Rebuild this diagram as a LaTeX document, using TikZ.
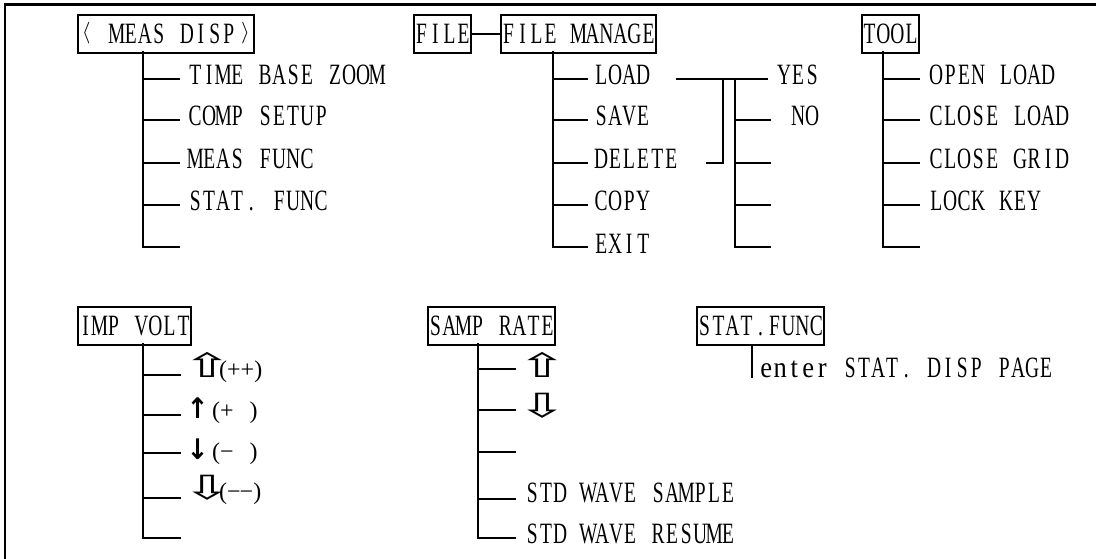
\documentclass[tikz,border=0pt]{standalone}
\usepackage{fontspec}
\usepackage{graphicx}
\setmainfont{Liberation Serif}
\newfontfamily\cnf[FakeStretch=0.66]{Liberation Serif}
\newfontfamily\cnl[FakeStretch=0.9]{Liberation Serif}
\newfontfamily\djv{DejaVu Sans}
\newfontfamily\tnr{Liberation Serif}
\makeatletter
\def\mono#1{\mono@loop#1\mono@end}
\def\mono@end{\mono@end}
\def\mono@loop#1{\ifx#1\mono@end\else\makebox[14pt]{#1}\expandafter\mono@loop\fi}
\makeatother
\newcommand{\wup}{\makebox[20pt][l]{\hspace*{-10pt}\raisebox{-0.5pt}{\scalebox{2.6}[1.45]{\djv\fontsize{23}{23}\selectfont ⇧}}}}
\newcommand{\wdown}{\makebox[20pt][l]{\hspace*{-10pt}\raisebox{-0.5pt}{\scalebox{2.6}[1.45]{\djv\fontsize{23}{23}\selectfont ⇩}}}}
\newcommand{\bup}{\makebox[11pt][c]{\scalebox{1.25}[1.35]{\djv\bfseries\fontsize{21}{21}\selectfont ↑}}}
\newcommand{\bdown}{\makebox[11pt][c]{\scalebox{1.25}[1.35]{\djv\bfseries\fontsize{21}{21}\selectfont ↓}}}
\tikzset{
  ln/.style={line width=1.8pt, line cap=rect},
  menubox/.style={draw, line width=1.8pt, anchor=north west, inner xsep=0.6pt, inner ysep=0pt,
    text height=29pt, text depth=9pt, font=\cnf\fontsize{29.5}{30}\selectfont},
  item/.style={anchor=base west, inner sep=0pt, font=\cnf\fontsize{29.5}{30}\selectfont},
  arritem/.style={anchor=base west, inner sep=0pt, font=\tnr\fontsize{24}{24}\selectfont},
}
\begin{document}
\begin{tikzpicture}[x=1pt,y=-1pt]
\useasboundingbox (0,0) rectangle (1096,559);
% frame (cropped)
\coordinate (fr1) at (5,559);
\coordinate (fr2) at (5,4.5);
\coordinate (fr3) at (1096,4.5);
\draw[line width=2.2pt] (fr1) -- (fr2) -- (fr3);

% ---------- MEAS DISP ----------
\node[menubox, inner xsep=4pt] (meas) at (77,14)
  {\makebox[14pt][l]{\raisebox{5.5pt}{\scalebox{1.3}[1.25]{\fontsize{17.28}{18}\selectfont$\langle$}}}\mono{~MEAS~DISP}\makebox[14pt][r]{\raisebox{5.5pt}{\scalebox{1.3}[1.25]{\fontsize{17.28}{18}\selectfont$\rangle$}}}};
\coordinate (mT) at (143,52);
\foreach \y [count=\i] in {79,120,163,205,247} \coordinate (m\i) at (179,\y);
\draw[ln] (mT) |- (m5);
\foreach \i in {1,...,4} \draw[ln] (mT |- m\i) -- (m\i);
\node[item] (mt1) at (188,85) {\mono{TIME~BASE~ZOOM}};
\node[item] (mt2) at (188,126) {\mono{COMP~SETUP}};
\node[item] (mt3) at (188,169) {\mono{MEAS~FUNC}};
\node[item] (mt4) at (188,211) {\mono{STAT.~FUNC}};

% ---------- FILE ----------
\node[menubox] (file) at (413,14) {\mono{FILE}};
\node[menubox] (fm) at (500,14) {\mono{FILE~MANAGE}};
\draw[ln] (file.east) -- (fm.west);
\coordinate (fT) at (553,52);
\foreach \y [count=\i] in {79,120,163,205,247} \coordinate (f\i) at (587,\y);
\draw[ln] (fT) |- (f5);
\foreach \i in {1,...,4} \draw[ln] (fT |- f\i) -- (f\i);
\node[item] (ft1) at (594,85) {\mono{LOAD}};
\node[item] (ft2) at (594,126) {\mono{SAVE}};
\node[item] (ft3) at (594,169) {\mono{DELETE}};
\node[item] (ft4) at (594,211) {\mono{COPY}};
\node[item] (ft5) at (594,253) {\mono{EXIT}};
% LOAD / DELETE -> YES / NO
\coordinate (la) at (677,79);
\coordinate (lb) at (767,79);
\draw[ln] (la) -- (lb);
\coordinate (v1t) at (723,79);
\coordinate (ds) at (707,163);
\draw[ln] (ds) -| (v1t);
\coordinate (v2t) at (735,79);
\foreach \y [count=\i] in {120,163,205,247} \coordinate (r\i) at (770,\y);
\draw[ln] (v2t) |- (r4);
\foreach \i in {1,...,3} \draw[ln] (v2t |- r\i) -- (r\i);
\node[item] (yes) at (777,85) {\mono{YES}};
\node[item] (no) at (777,126) {\mono{~NO}};

% ---------- TOOL ----------
\node[menubox] (tool) at (861,14) {\mono{TOOL}};
\coordinate (tT) at (883,52);
\foreach \y [count=\i] in {79,120,163,205,247} \coordinate (t\i) at (919,\y);
\draw[ln] (tT) |- (t5);
\foreach \i in {1,...,4} \draw[ln] (tT |- t\i) -- (t\i);
\node[item] (tt1) at (929,85) {\mono{OPEN~LOAD}};
\node[item] (tt2) at (929,126) {\mono{CLOSE~LOAD}};
\node[item] (tt3) at (929,169) {\mono{CLOSE~GRID}};
\node[item] (tt4) at (929,211) {\mono{LOCK~KEY}};

% ---------- IMP VOLT ----------
\node[menubox] (imp) at (77,306) {\mono{IMP~VOLT}};
\coordinate (iT) at (143,344);
\foreach \y [count=\i] in {375,415,453,498,538} \coordinate (i\i) at (180,\y);
\draw[ln] (iT) |- (i5);
\foreach \i in {1,...,4} \draw[ln] (iT |- i\i) -- (i\i);
\node[arritem] (it1) at (192,377) {\makebox[27pt][l]{\wup}(++)};
\node[arritem] (it2) at (192,418) {\makebox[20pt][l]{\bup}(+\,\,\,\,)};
\node[arritem] (it3) at (192,459) {\makebox[20pt][l]{\bdown}(−\,\,\,\,)};
\node[arritem] (it4) at (192,499) {\makebox[27pt][l]{\wdown}(−\kern-1pt−)};

% ---------- SAMP RATE ----------
\node[menubox] (samp) at (427,306) {\mono{SAMP~RATE}};
\coordinate (sT) at (478,344);
\foreach \y [count=\i] in {369,410,452,499,538} \coordinate (s\i) at (515,\y);
\draw[ln] (sT) |- (s5);
\foreach \i in {1,...,4} \draw[ln] (sT |- s\i) -- (s\i);
\node[arritem] (st1) at (527,377) {\wup};
\node[arritem] (st2) at (527,417) {\wdown};
\node[item] (st4) at (525,502) {\mono{STD~WAVE~SAMPLE}};
\node[item] (st5) at (525,543) {\mono{STD~WAVE~RESUME}};

% ---------- STAT.FUNC ----------
\node[menubox] (stat) at (696,306) {\mono{STAT.FUNC}};
\coordinate (aT) at (752,344);
\coordinate (aB) at (752,378);
\draw[ln, line cap=butt] (aT) -- (aB);
\node[item] (at1) at (759,377) {{\cnl\mono{enter}}\mono{~STAT.~DISP~PAGE}};
\end{tikzpicture}
\end{document}
